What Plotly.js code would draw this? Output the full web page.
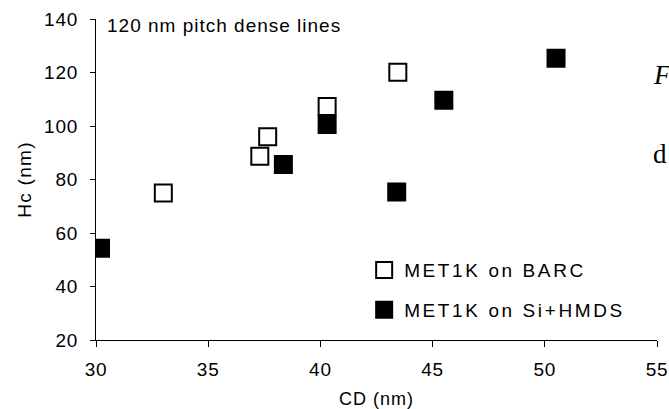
<!DOCTYPE html>
<html>
<head>
<meta charset="utf-8">
<script src="https://cdn.plot.ly/plotly-3.0.1.min.js"></script>
<style>
html, body { margin: 0; padding: 0; background: #fff; }
#chart { width: 669px; height: 409px; }
.legendtext { letter-spacing: 2.6px; }
.xtick text, .ytick text { letter-spacing: 0.8px; }
.xtitle { letter-spacing: 1px; }
.ytitle { letter-spacing: 1.3px; }
g.annotation[data-index="0"] text { letter-spacing: 1px; }
</style>
</head>
<body>
<div id="chart"></div>
<script>
// Data
const barcCD = [33.0, 37.3, 37.65, 40.3, 43.45];
const barcHc = [75.0, 88.7, 96.0, 107.3, 120.1];
const hmdsCD = [30.2, 38.35, 40.3, 43.4, 45.5, 50.5];
const hmdsHc = [54.3, 85.6, 100.6, 75.3, 109.6, 125.3];

const seriesNames = ['MET1K on BARC', 'MET1K on Si+HMDS'];
const xTickVals = [30, 35, 40, 45, 50, 55];
const yTickVals = [20, 40, 60, 80, 100, 120, 140];
const titleText = '120 nm pitch dense lines';
const xTitle = 'CD (nm)';
const yTitle = 'Hc (nm)';
const sideTexts = ['F', 'd'];

const FONT = 'Liberation Sans, Arial, sans-serif';

const traces = [
  {
    x: hmdsCD, y: hmdsHc, type: 'scatter', mode: 'markers',
    name: seriesNames[1], legendrank: 2, legendgroup: 'b',
    marker: { symbol: 'square', size: 17, color: '#000000', line: { color: '#000000', width: 2 } }
  },
  {
    x: barcCD, y: barcHc, type: 'scatter', mode: 'markers',
    name: seriesNames[0], legendrank: 1, legendgroup: 'a',
    marker: { symbol: 'square', size: 17, color: '#ffffff', line: { color: '#000000', width: 2 } }
  }
];

const layout = {
  width: 669, height: 409,
  margin: { l: 96, r: 12, t: 19, b: 69 },
  paper_bgcolor: '#ffffff', plot_bgcolor: '#ffffff',
  font: { family: FONT, size: 19, color: '#000000' },
  showlegend: true,
  legend: {
    x: 0.478, y: 0.277, xanchor: 'left', yanchor: 'top',
    bgcolor: 'rgba(0,0,0,0)', borderwidth: 0,
    font: { family: FONT, size: 19, color: '#000000' },
    tracegroupgap: 12, itemwidth: 30
  },
  xaxis: {
    range: [30, 55], tickvals: xTickVals, ticktext: xTickVals.map(String),
    showgrid: false, zeroline: false, showline: true, linecolor: '#000000', linewidth: 1,
    ticks: 'outside', ticklen: 6, tickcolor: '#000000', tickwidth: 1,
    tickfont: { family: FONT, size: 19 }, ticklabelstandoff: 6,
    title: { text: xTitle, font: { family: FONT, size: 18 }, standoff: 14 },
    fixedrange: true
  },
  yaxis: {
    range: [20, 140], tickvals: yTickVals, ticktext: yTickVals.map(String),
    showgrid: false, zeroline: false, showline: true, linecolor: '#000000', linewidth: 1,
    ticks: 'outside', ticklen: 5, tickcolor: '#000000', tickwidth: 1,
    tickfont: { family: FONT, size: 19 }, ticklabelstandoff: 8,
    title: { text: yTitle, font: { family: FONT, size: 19 }, standoff: 7 },
    fixedrange: true
  },
  annotations: [
    {
      text: titleText, xref: 'paper', yref: 'paper', x: 0.018, y: 1.0,
      xanchor: 'left', yanchor: 'top', xshift: 11, yshift: 6, showarrow: false,
      font: { family: FONT, size: 19, color: '#000000' }
    },
    {
      text: '<i>' + sideTexts[0] + '</i>', xref: 'paper', yref: 'paper', x: 1, y: 0.825,
      xanchor: 'left', yanchor: 'middle', xshift: -6, showarrow: false,
      font: { family: 'Liberation Serif, Times New Roman, serif', size: 27, color: '#000000' }
    },
    {
      text: sideTexts[1], xref: 'paper', yref: 'paper', x: 1, y: 0.58,
      xanchor: 'left', yanchor: 'middle', xshift: -6, showarrow: false,
      font: { family: 'Liberation Serif, Times New Roman, serif', size: 27, color: '#000000' }
    }
  ]
};

Plotly.newPlot('chart', traces, layout, { displayModeBar: false, staticPlot: true });
</script>
</body>
</html>
